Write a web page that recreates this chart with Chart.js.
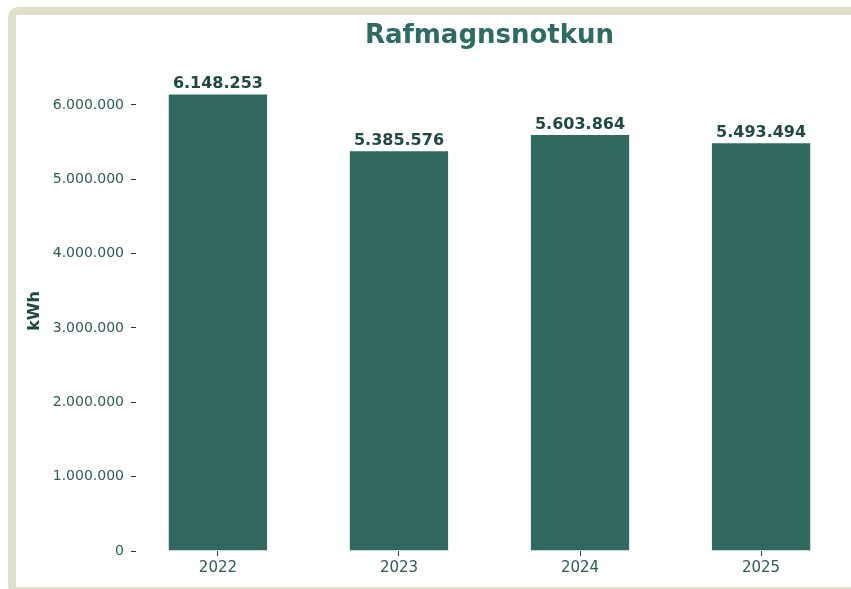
<!DOCTYPE html>
<html>
<head>
<meta charset="utf-8">
<script src="https://cdn.jsdelivr.net/npm/chart.js@4"></script>
<style>
  html, body { margin: 0; padding: 0; background: #ffffff; width: 851px; height: 589px; overflow: hidden; }
  #frame { position: absolute; left: 8px; top: 7px; width: 900px; height: 572px; border: 8px solid #e0dfcc; border-radius: 10px; background: #ffffff; }
  #wrap { position: absolute; left: 0; top: 0; width: 851px; height: 589px; }
</style>
</head>
<body>
<div id="frame"></div>
<div id="wrap"><canvas id="c" width="851" height="589"></canvas></div>
<script>
const categories = ['2022', '2023', '2024', '2025'];
const values = [6148253, 5385576, 5603864, 5493494];
const yTickValues = [0, 1000000, 2000000, 3000000, 4000000, 5000000, 6000000];
const titleText = 'Rafmagnsnotkun';
const yLabel = 'kWh';

const fmt = v => Math.round(v).toString().replace(/\B(?=(\d{3})+(?!\d))/g, '.');

const FONT = "'DejaVu Sans', sans-serif";
const barColor = '#316860';
const tickColor = '#2c5c55';
const labelColor = '#1f4a43';

const valueLabels = {
  id: 'valueLabels',
  afterDatasetsDraw(chart) {
    const ctx = chart.ctx;
    const meta = chart.getDatasetMeta(0);
    ctx.save();
    ctx.font = 'bold 16px ' + FONT;
    ctx.fillStyle = labelColor;
    ctx.textAlign = 'center';
    ctx.textBaseline = 'alphabetic';
    meta.data.forEach((el, i) => {
      ctx.fillText(fmt(values[i]), el.x, el.y - 5.5);
    });
    ctx.restore();
  }
};

const n = categories.length;
const xMargin = (n - 1 + 0.55) * 0.05 + 0.275;

new Chart(document.getElementById('c'), {
  type: 'bar',
  data: {
    datasets: [{
      data: values.map((v, i) => ({ x: i, y: v })),
      backgroundColor: barColor,
      borderColor: 'rgba(255,255,255,0.5)',
      borderWidth: 0.6,
      categoryPercentage: 0.55,
      barPercentage: 1.0
    }]
  },
  options: {
    responsive: false,
    animation: false,
    devicePixelRatio: 1,
    layout: { padding: { left: 0, right: 8, top: 0, bottom: 0 } },
    plugins: {
      legend: { display: false },
      tooltip: { enabled: false },
      title: {
        display: true,
        text: titleText,
        fullSize: false,
        color: '#2e6b62',
        font: { family: FONT, size: 26, weight: 'bold', lineHeight: 1.2 },
        padding: { top: 21, bottom: 18.8 }
      }
    },
    scales: {
      x: {
        type: 'linear',
        offset: false,
        min: -xMargin,
        max: n - 1 + xMargin,
        afterBuildTicks: s => { s.ticks = categories.map((c, i) => ({ value: i })); },
        afterFit: s => { s.height = 38; },
        border: { display: false },
        grid: { display: true, offset: false, drawOnChartArea: false, drawTicks: true, tickLength: 5, tickColor: '#333333', tickWidth: 1 },
        ticks: {
          color: tickColor,
          font: { family: FONT, size: 15 },
          padding: 3,
          autoSkip: false,
          maxRotation: 0,
          callback: v => categories[v] !== undefined ? categories[v] : ''
        }
      },
      y: {
        type: 'linear',
        min: 0,
        max: Math.max(...values) * 1.05,
        afterBuildTicks: s => { s.ticks = yTickValues.map(v => ({ value: v })); },
        afterFit: s => { s.width = 136; },
        border: { display: false },
        grid: { display: true, drawOnChartArea: false, drawTicks: true, tickLength: 5, tickColor: '#333333', tickWidth: 1 },
        ticks: {
          color: tickColor,
          font: { family: FONT, size: 14 },
          padding: 7,
          callback: v => fmt(v)
        },
        title: {
          display: true,
          text: yLabel,
          color: labelColor,
          font: { family: FONT, size: 16, weight: 'bold', lineHeight: 1.2 },
          padding: { top: 25, bottom: 0 }
        }
      }
    }
  },
  plugins: [valueLabels]
});
</script>
</body>
</html>
